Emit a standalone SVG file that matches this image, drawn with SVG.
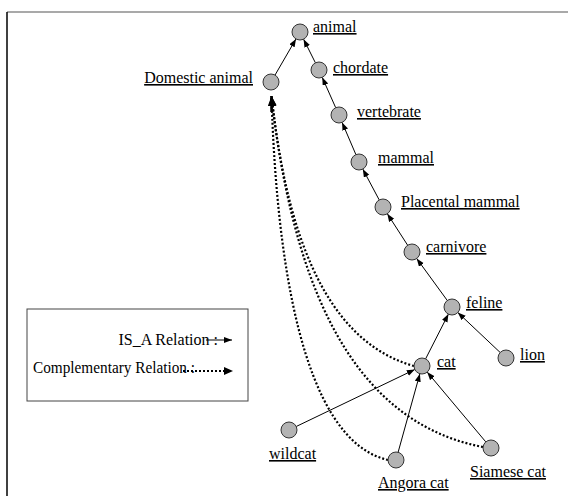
<svg xmlns="http://www.w3.org/2000/svg" width="568" height="496" viewBox="0 0 568 496">
<style>
.n{fill:#b3b3b3;stroke:#333;stroke-width:1}
.t{font-family:"Liberation Serif","Times New Roman",serif;font-size:16px;fill:#000;text-decoration:underline}
.lg{font-family:"Liberation Serif","Times New Roman",serif;font-size:16px;fill:#000}
.e{stroke:#000;stroke-width:1;fill:none;marker-end:url(#a)}
.d{stroke:#000;stroke-width:2.2;fill:none;stroke-dasharray:2 2}
</style>
<defs>
<marker id="a" markerUnits="userSpaceOnUse" markerWidth="10" markerHeight="8" refX="8" refY="3" orient="auto">
<path d="M0,0 L8,3 L0,6 Z" fill="#000"/>
</marker>
<marker id="b" markerUnits="userSpaceOnUse" markerWidth="12" markerHeight="10" refX="10" refY="4" orient="auto">
<path d="M0,0 L10,4 L0,8 Z" fill="#000"/>
</marker>
</defs>
<rect width="568" height="496" fill="#fff"/>
<g id="frame">
<line x1="7" y1="12" x2="568" y2="12" stroke="#555" stroke-width="1.2"/>
<line x1="7" y1="12" x2="7" y2="496" stroke="#000" stroke-width="1.5"/>
</g>
<g id="connectors">
<line class="e" x1="275" y1="75.1" x2="296" y2="38.9"/>
<line class="e" x1="315.4" y1="62.8" x2="303.6" y2="39.2"/>
<line class="e" x1="335.7" y1="107.7" x2="322.2" y2="77.3"/>
<line class="e" x1="355.9" y1="154.6" x2="342.1" y2="122.4"/>
<line class="e" x1="379.2" y1="199.9" x2="362.8" y2="169.1"/>
<line class="e" x1="407.7" y1="245.3" x2="387.3" y2="213.7"/>
<line class="e" x1="447.3" y1="300.5" x2="416.7" y2="258.5"/>
<line class="e" x1="425.6" y1="358.9" x2="448.4" y2="314.1"/>
<line class="e" x1="500.2" y1="352.5" x2="457.8" y2="312.5"/>
<line class="e" x1="296.2" y1="426.5" x2="414.8" y2="369.5"/>
<line class="e" x1="398.1" y1="452.3" x2="419.9" y2="373.7"/>
<line class="e" x1="485.8" y1="441.9" x2="427.2" y2="372.1"/>
<path class="d" d="M388,460 C300,440 276,250 271.5,96" marker-end="url(#b)"/>
<path class="d" d="M483,447 C340,420 290,260 271.5,96" marker-end="url(#b)"/>
<path class="d" d="M414,366 C320,340 285,220 271.5,96" marker-end="url(#b)"/>
<line x1="271.5" y1="112" x2="271.5" y2="96" stroke="#000" stroke-width="2.5"/>
</g>
<g id="animal"><circle class="n" cx="300" cy="32" r="8"/><text class="t" x="313" y="32">animal</text></g>
<g id="chordate"><circle class="n" cx="319" cy="70" r="8"/><text class="t" x="333" y="73">chordate</text></g>
<g id="domestic"><circle class="n" cx="271" cy="82" r="8"/><text class="t" x="253" y="83" text-anchor="end">Domestic animal</text></g>
<g id="vertebrate"><circle class="n" cx="339" cy="115" r="8"/><text class="t" x="357" y="117">vertebrate</text></g>
<g id="mammal"><circle class="n" cx="359" cy="162" r="8"/><text class="t" x="378" y="163">mammal</text></g>
<g id="placental"><circle class="n" cx="383" cy="207" r="8"/><text class="t" x="401" y="207">Placental mammal</text></g>
<g id="carnivore"><circle class="n" cx="412" cy="252" r="8"/><text class="t" x="426" y="252">carnivore</text></g>
<g id="feline"><circle class="n" cx="452" cy="307" r="8"/><text class="t" x="466" y="308">feline</text></g>
<g id="lion"><circle class="n" cx="506" cy="358" r="8"/><text class="t" x="520" y="360">lion</text></g>
<g id="cat"><circle class="n" cx="422" cy="366" r="8"/><text class="t" x="437" y="367">cat</text></g>
<g id="wildcat"><circle class="n" cx="289" cy="430" r="8"/><text class="t" x="269" y="459">wildcat</text></g>
<g id="angora"><circle class="n" cx="396" cy="460" r="8"/><text class="t" x="378" y="488">Angora cat</text></g>
<g id="siamese"><circle class="n" cx="491" cy="448" r="8"/><text class="t" x="470" y="477">Siamese cat</text></g>
<g id="legend">
<rect x="27" y="309" width="221" height="92" fill="none" stroke="#444" stroke-width="1"/>
<text class="lg" x="218" y="345" text-anchor="end">IS_A Relation :</text>
<line class="e" x1="206" y1="340" x2="232" y2="340"/>
<text class="lg" x="33" y="373" textLength="162" lengthAdjust="spacingAndGlyphs">Complementary Relation :</text>
<line class="d" x1="183" y1="371" x2="224" y2="371"/>
<path d="M224,367 L233,371 L224,375 Z" fill="#000"/>
</g>
</svg>
